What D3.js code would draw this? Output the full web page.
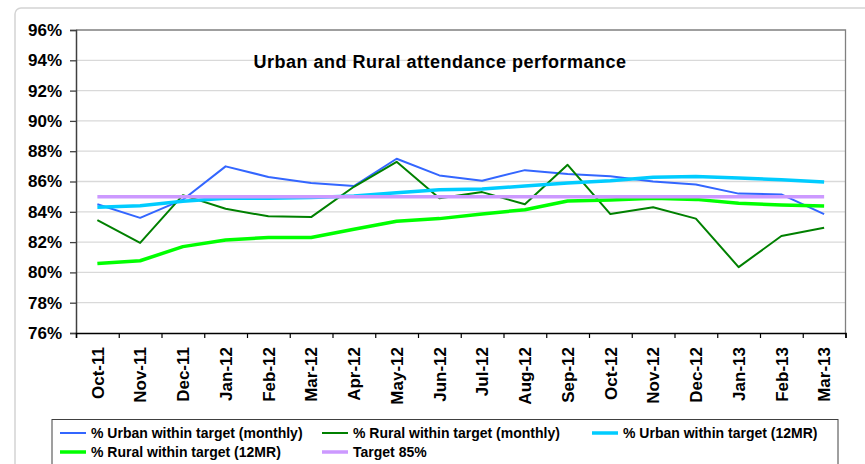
<!DOCTYPE html>
<html>
<head>
<meta charset="utf-8">
<script src="https://cdn.jsdelivr.net/npm/d3@7"></script>
<style>
  body { margin: 0; background: #fff; }
  svg { display: block; font-family: "Liberation Sans", Arial, sans-serif; }
  .grid line { stroke: #d9d9d9; stroke-width: 1.3; }
  .line { fill: none; stroke-linejoin: round; }
</style>
</head>
<body>
<div id="chart"></div>
<script>
var months = ["Oct-11","Nov-11","Dec-11","Jan-12","Feb-12","Mar-12","Apr-12","May-12","Jun-12",
              "Jul-12","Aug-12","Sep-12","Oct-12","Nov-12","Dec-12","Jan-13","Feb-13","Mar-13"];

var urbanMonthly = [84.5, 83.6, 84.8, 87.0, 86.3, 85.9, 85.7, 87.5, 86.4,
                    86.05, 86.75, 86.5, 86.35, 86.0, 85.8, 85.2, 85.15, 83.85];
var ruralMonthly = [83.45, 81.95, 85.1, 84.2, 83.7, 83.65, 85.65, 87.3, 84.9,
                    85.3, 84.5, 87.1, 83.85, 84.3, 83.55, 80.35, 82.4, 82.95];
var urban12MR    = [84.3, 84.4, 84.7, 84.9, 84.9, 84.95, 85.05, 85.25, 85.45,
                    85.5, 85.7, 85.9, 86.05, 86.28, 86.33, 86.23, 86.12, 85.97];
var rural12MR    = [80.58, 80.77, 81.7, 82.14, 82.3, 82.3, 82.85, 83.37, 83.55,
                    83.86, 84.14, 84.71, 84.78, 84.89, 84.82, 84.56, 84.45, 84.38];
var target       = [85, 85, 85, 85, 85, 85, 85, 85, 85, 85, 85, 85, 85, 85, 85, 85, 85, 85];

var yTicks = [76, 78, 80, 82, 84, 86, 88, 90, 92, 94, 96];

var seriesNames  = ["% Urban within target (monthly)", "% Rural within target (monthly)",
                    "% Urban within target (12MR)", "% Rural within target (12MR)", "Target 85%"];
var seriesValues = [urbanMonthly, ruralMonthly, urban12MR, rural12MR, target];
var seriesColors = ["#3366ff", "#008000", "#00ccff", "#00ff00", "#cc99ff"];
var seriesWidths = [2, 2, 3.5, 3.5, 3.5];

var W = 865, H = 464;
var plot = { left: 76, right: 845.5, top: 30, bottom: 333 };

var svg = d3.select("#chart").append("svg")
    .attr("width", W)
    .attr("height", H);

// chart area frame
svg.append("rect")
    .attr("x", 15).attr("y", 8)
    .attr("width", 880).attr("height", 500)
    .attr("rx", 6)
    .attr("fill", "none")
    .attr("stroke", "#d4d4d4")
    .attr("stroke-width", 1.5);

var x = d3.scaleBand().domain(months).range([plot.left, plot.right]);
var xEdge = d3.scaleLinear().domain([0, months.length]).range([plot.left, plot.right]);
var y = d3.scaleLinear().domain([76, 96]).range([plot.bottom, plot.top]);

// gridlines
svg.append("g")
    .attr("class", "grid")
    .selectAll("line")
    .data(yTicks.filter(function (d) { return d > 76 && d < 96; }))
    .enter().append("line")
    .attr("x1", plot.left).attr("x2", plot.right)
    .attr("y1", function (d) { return y(d); })
    .attr("y2", function (d) { return y(d); });

// plot border top/right
svg.append("path")
    .attr("d", "M" + plot.left + "," + y(96) + "H" + plot.right + "V" + plot.bottom)
    .attr("fill", "none")
    .attr("stroke", "#808080")
    .attr("stroke-width", 1.3);

// y axis
var yAxis = svg.append("g")
    .attr("transform", "translate(" + plot.left + ",0)")
    .call(d3.axisLeft(y).tickValues(yTicks).tickSize(6).tickPadding(8)
        .tickFormat(function (d) { return d + "%"; }));
yAxis.select(".domain").attr("stroke", "#404040").attr("stroke-width", 1.5);
yAxis.selectAll(".tick line").attr("stroke", "#404040").attr("stroke-width", 1.3);
yAxis.selectAll("text")
    .attr("fill", "#000")
    .style("font-size", "17px")
    .style("font-weight", "bold");

// x axis ticks at category edges
var xTicks = svg.append("g")
    .attr("transform", "translate(0," + plot.bottom + ")")
    .call(d3.axisBottom(xEdge).tickValues(d3.range(0, months.length + 1)).tickSize(5).tickFormat(""));
xTicks.select(".domain").attr("stroke", "#000").attr("stroke-width", 1.5);
xTicks.selectAll(".tick line").attr("stroke", "#000").attr("stroke-width", 1.2);

// x axis labels
var xAxis = svg.append("g")
    .attr("transform", "translate(0," + plot.bottom + ")")
    .call(d3.axisBottom(x).tickSize(0));
xAxis.select(".domain").remove();
xAxis.selectAll("text")
    .attr("transform", "rotate(-90)")
    .attr("x", -14)
    .attr("y", 0)
    .attr("dy", "0.36em")
    .attr("fill", "#000")
    .style("text-anchor", "end")
    .style("font-size", "17px")
    .style("font-weight", "bold");

// title
svg.append("text")
    .attr("x", 440)
    .attr("y", 68)
    .attr("text-anchor", "middle")
    .style("font-size", "18px")
    .style("font-weight", "bold")
    .style("letter-spacing", "0.5px")
    .text("Urban and Rural attendance performance");

// lines
var line = d3.line()
    .x(function (d, i) { return x(months[i]) + x.bandwidth() / 2; })
    .y(function (d) { return y(d); });

svg.selectAll(".line")
    .data(seriesValues)
    .enter().append("path")
    .attr("class", "line")
    .attr("d", line)
    .attr("stroke", function (d, i) { return seriesColors[i]; })
    .attr("stroke-width", function (d, i) { return seriesWidths[i]; });

// legend
var legend = svg.append("g");
legend.append("rect")
    .attr("x", 52).attr("y", 419.5)
    .attr("width", 786).attr("height", 70)
    .attr("fill", "#fff")
    .attr("stroke", "#404040")
    .attr("stroke-width", 1);

var legendPos = [[60, 433], [322, 433], [592, 433], [60, 452], [322, 452]];

var item = legend.selectAll(".item")
    .data(seriesNames)
    .enter().append("g")
    .attr("class", "item")
    .attr("transform", function (d, i) { return "translate(" + legendPos[i][0] + "," + legendPos[i][1] + ")"; });

item.append("line")
    .attr("x1", 0).attr("x2", 26)
    .attr("stroke", function (d, i) { return seriesColors[i]; })
    .attr("stroke-width", function (d, i) { return seriesWidths[i]; });

item.append("text")
    .attr("x", 31)
    .attr("dy", "0.36em")
    .style("font-size", "14px")
    .style("font-weight", "bold")
    .text(function (d) { return d; });
</script>
</body>
</html>
